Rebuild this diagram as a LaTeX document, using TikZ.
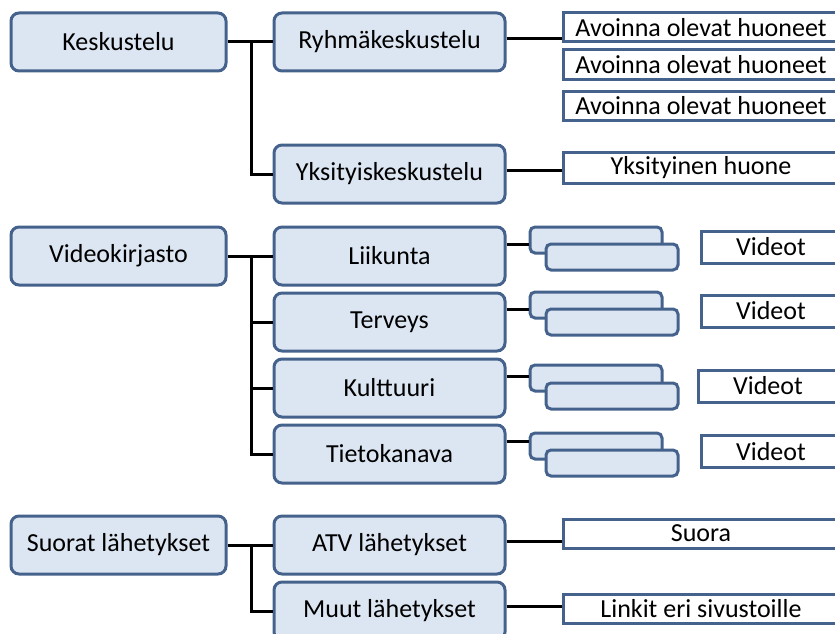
\documentclass[tikz,border=0pt]{standalone}
\usepackage{fontspec}
\setmainfont{Carlito}
\usetikzlibrary{calc}
\definecolor{bfill}{RGB}{220,230,242}
\definecolor{bdraw}{RGB}{68,98,140}
\begin{document}
\begin{tikzpicture}[x=1pt,y=-1pt,
  basebox/.style={draw=bdraw, line width=3pt, inner sep=0pt, font=\fontsize{26}{31}\selectfont},
  lbox/.style={basebox, fill=bfill, rounded corners=8pt, minimum width=215pt, minimum height=58pt},
  mbox/.style={basebox, fill=bfill, rounded corners=8pt, minimum width=231pt, minimum height=58pt},
  wbox/.style={basebox, fill=white, minimum width=300pt, minimum height=29pt},
  vbox/.style={basebox, fill=white, minimum width=160pt, minimum height=32pt},
  sbox/.style={basebox, fill=bfill, rounded corners=5pt, minimum width=132pt, minimum height=26pt},
  conn/.style={draw=black, line width=3pt}]
\useasboundingbox (0,0) rectangle (835,634);
\clip (0,0) rectangle (835,634);
% left column
\node[lbox] (k) at (118.5,42) {Keskustelu};
\node[lbox] (v) at (118.5,256) {Videokirjasto};
\node[lbox] (s) at (118.5,545) {Suorat lähetykset};
% middle column
\node[mbox] (rk) at (389.5,42) {Ryhmäkeskustelu};
\node[mbox] (yk) at (389.5,174) {Yksityiskeskustelu};
\node[mbox] (li) at (389.5,256) {Liikunta};
\node[mbox] (te) at (389.5,322) {Terveys};
\node[mbox] (ku) at (389.5,388) {Kulttuuri};
\node[mbox] (ti) at (389.5,454) {Tietokanava};
\node[mbox] (atv) at (389.5,545) {ATV lähetykset};
\node[mbox] (mu) at (389.5,611) {Muut lähetykset};
% right column (boxes run past the right edge; text shifted back to x=701)
\node[wbox] (a1) at (713,27.5) {\hspace*{-24pt}Avoinna olevat huoneet};
\node[wbox] (a2) at (713,64.5) {\hspace*{-24pt}Avoinna olevat huoneet};
\node[wbox] (a3) at (713,106) {\hspace*{-24pt}Avoinna olevat huoneet};
\node[wbox, minimum height=31pt] (yh) at (713,167.5) {\hspace*{-24pt}Yksityinen huone};
\node[vbox] (v1) at (781,247) {\hspace*{-20pt}Videot};
\node[vbox] (v2) at (781,311) {\hspace*{-20pt}Videot};
\node[vbox] (v3) at (778,386) {\hspace*{-20pt}Videot};
\node[vbox] (v4) at (781,451.5) {\hspace*{-20pt}Videot};
\node[wbox] (su) at (713,533.5) {\hspace*{-24pt}Suora};
\node[wbox] (lk) at (713,608.5) {\hspace*{-24pt}Linkit eri sivustoille};
% stacked empty boxes
\node[sbox] (b1) at (596,240) {};
\node[sbox] (f1) at (612,257) {};
\node[sbox] (b2) at (596,305) {};
\node[sbox] (f2) at (612,322) {};
\node[sbox] (b3) at (596,378) {};
\node[sbox] (f3) at (612,396) {};
\node[sbox] (b4) at (596,446) {};
\node[sbox] (f4) at (612,463) {};
% trunk coordinates
\coordinate (kt) at ($(k.east)+(24,0)$);
\coordinate (vt) at ($(v.east)+(24,0)$);
\coordinate (st) at ($(s.east)+(24,0)$);
% connectors left -> middle
\draw[conn] (k.east) -- (rk.west);
\draw[conn] (kt) |- (yk.west);
\draw[conn] (v.east) -- (li.west);
\draw[conn] (vt) |- (ti.west);
\draw[conn] (vt |- te.west) -- (te.west);
\draw[conn] (vt |- ku.west) -- (ku.west);
\draw[conn] (s.east) -- (atv.west);
\draw[conn] (st) |- (mu.west);
% connectors middle -> right
\draw[conn] ([yshift=3pt]rk.east) -- ([yshift=3pt]rk.east -| a1.west);
\draw[conn] ([yshift=4pt]yk.east) -- ([yshift=4pt]yk.east -| yh.west);
\draw[conn] ([yshift=12pt]li.east) -- ([yshift=12pt]li.east -| b1.west);
\draw[conn] ([yshift=13pt]te.east) -- ([yshift=13pt]te.east -| b2.west);
\draw[conn] ([yshift=12pt]ku.east) -- ([yshift=12pt]ku.east -| b3.west);
\draw[conn] ([yshift=13pt]ti.east) -- ([yshift=13pt]ti.east -| b4.west);
\draw[conn] ([yshift=4pt]atv.east) -- ([yshift=4pt]atv.east -| su.west);
\draw[conn] ([yshift=5pt]mu.east) -- ([yshift=5pt]mu.east -| lk.west);
\end{tikzpicture}
\end{document}
